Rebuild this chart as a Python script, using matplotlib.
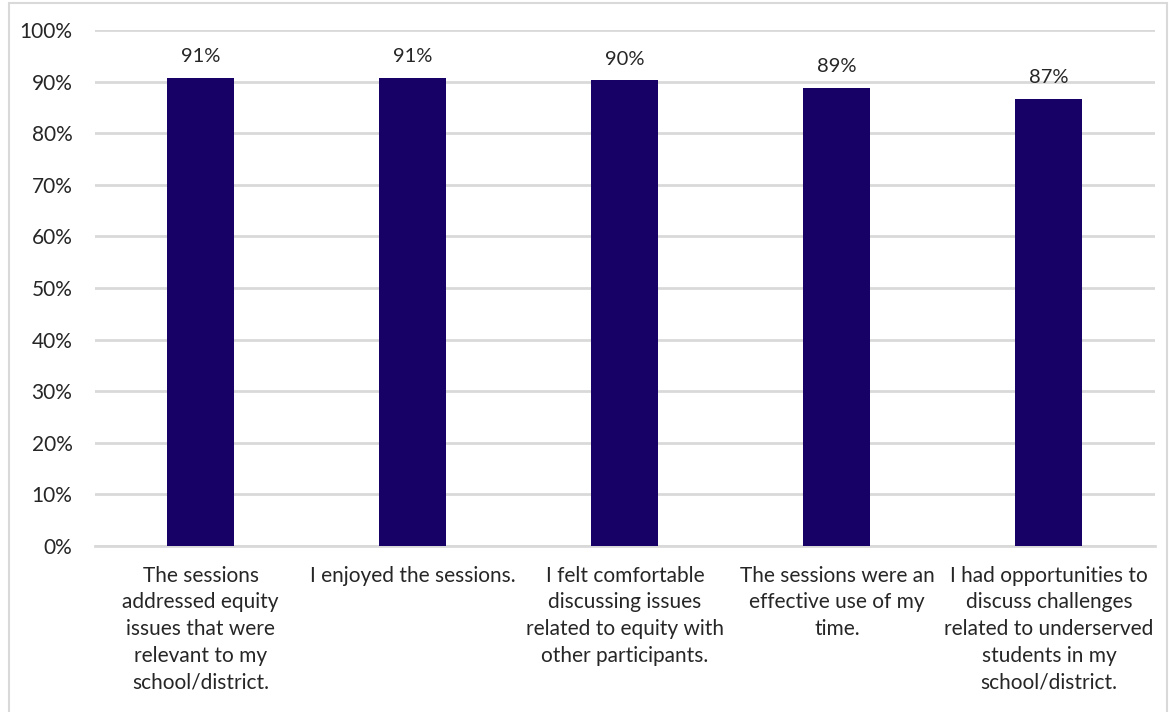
import matplotlib

matplotlib.use("Agg")

import matplotlib.pyplot as plt
from matplotlib.patches import Rectangle
from matplotlib.ticker import PercentFormatter

categories = [
    "The sessions\naddressed equity\nissues that were\nrelevant to my\nschool/district.",
    "I enjoyed the sessions.",
    "I felt comfortable\ndiscussing issues\nrelated to equity with\nother participants.",
    "The sessions were an\neffective use of my\ntime.",
    "I had opportunities to\ndiscuss challenges\nrelated to underserved\nstudents in my\nschool/district.",
]
values = [0.907, 0.907, 0.902, 0.887, 0.866]
yticks = [i / 10 for i in range(11)]

plt.rcParams["font.family"] = ["Lato", "DejaVu Sans"]

fig = plt.figure(figsize=(11.69, 7.12), dpi=100)
ax = fig.add_axes([0.081, 0.233, 0.907, 0.725])

x = range(len(categories))
ax.bar(x, values, width=0.316, color="#170066", zorder=3)

for xi, v in zip(x, values):
    ax.text(xi, v + 0.025, f"{round(v * 100):.0f}%", ha="center", va="bottom",
            fontsize=14.5, color="#262626")

ax.set_ylim(0, 1)
ax.set_xlim(-0.5, len(categories) - 0.5)
ax.set_yticks(yticks)
ax.yaxis.set_major_formatter(PercentFormatter(1.0, decimals=0))
ax.grid(axis="y", color="#d9d9d9", linewidth=2, zorder=0)
ax.set_xticks(list(x))
ax.set_xticklabels(categories, fontsize=15, color="#262626", linespacing=1.42, va="top")
ax.tick_params(axis="both", length=0, colors="#262626")
ax.tick_params(axis="y", labelsize=15, pad=16)
ax.tick_params(axis="x", pad=14)
for side in ["top", "right", "left"]:
    ax.spines[side].set_visible(False)
ax.spines["bottom"].set_color("#d9d9d9")
ax.spines["bottom"].set_linewidth(2)

fig.patches.append(Rectangle((0.008, -0.01), 0.99, 1.006, transform=fig.transFigure,
                             fill=False, edgecolor="#d9d9d9", linewidth=1.5))

fig.savefig("out.png", dpi=100)
plt.close(fig)
